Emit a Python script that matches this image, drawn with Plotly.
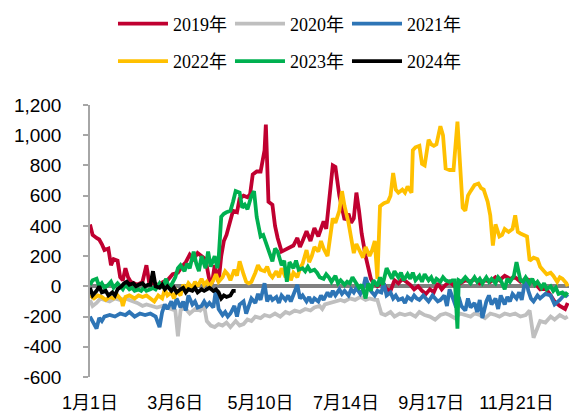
import plotly.graph_objects as go

# x axis: day of year (0 = 1月1日)
tick_days = [0, 65, 130, 195, 260, 325]
tick_labels = ["1月1日", "3月6日", "5月10日", "7月14日", "9月17日", "11月21日"]
y_ticks = [-600, -400, -200, 0, 200, 400, 600, 800, 1000, 1200]
y_tick_labels = ["-600", "-400", "-200", "0", "200", "400", "600", "800", "1,000", "1,200"]

d2019 = [0,2,5,7,9,11,14,16,18,21,23,25,27,29,31,34,36,38,40,43,45,48,52,56,59,63,67,70,73,76,79,82,85,88,91,93,95,98,100,102,104,107,109,112,114,117,120,122,124,127,130,133,134,136,139,141,143,146,150,155,158,160,162,165,168,171,174,178,180,182,185,187,190,192,194,197,199,201,203,205,207,210,212,214,216,219,223,226,229,232,235,238,241,244,247,250,253,256,259,262,265,268,271,274,278,282,286,290,293,297,301,305,309,312,316,320,324,328,332,335,339,343,347,351,354,358,362,364]
v2019 = [410,340,320,310,280,240,250,140,180,170,60,40,120,60,30,20,10,20,30,140,30,20,10,30,40,80,90,130,160,210,180,220,200,180,40,20,140,30,200,300,340,430,500,490,580,600,590,610,740,760,760,900,1070,560,540,400,320,230,250,270,320,260,300,365,300,385,330,430,380,550,800,790,600,520,440,480,420,450,620,500,350,200,120,50,20,0,30,-20,-30,40,20,50,30,10,-20,0,-30,-50,-20,-40,20,-20,10,30,0,20,40,30,50,20,40,30,60,40,70,50,60,30,50,40,20,-20,-10,-60,-100,-130,-150,-110]

d2020 = [0,2,5,8,11,15,19,23,27,30,33,36,40,43,47,51,55,59,62,65,67,69,72,76,80,84,87,89,92,95,98,101,104,107,111,114,117,120,123,126,130,133,137,141,145,149,152,156,160,164,168,171,175,177,179,183,187,191,194,198,202,206,210,213,217,219,222,225,229,232,236,240,244,248,251,255,259,263,267,271,274,278,282,286,290,293,297,301,305,309,312,316,320,324,328,332,335,338,340,343,347,351,354,358,362,364]
v2020 = [-90,-130,-110,-80,-90,-100,-80,-90,-80,-90,-100,-110,-130,-120,-130,-140,-130,-140,-150,-160,-330,-160,-140,-180,-150,-160,-130,-230,-260,-270,-250,-260,-240,-270,-230,-260,-250,-220,-230,-200,-210,-190,-200,-180,-200,-170,-180,-160,-170,-150,-160,-140,-130,-150,-120,-110,-100,-90,-100,-80,-90,-70,-90,-80,-90,-90,-180,-190,-170,-200,-180,-190,-180,-200,-170,-190,-200,-220,-190,-180,-190,-210,-180,-190,-200,-180,-190,-210,-180,-190,-200,-180,-190,-180,-200,-190,-160,-340,-300,-230,-240,-200,-220,-190,-210,-200]

d2021 = [0,2,5,7,9,11,15,19,23,27,30,34,38,42,46,50,53,55,57,59,62,64,66,69,71,73,75,78,80,82,85,87,89,91,94,96,98,101,103,105,107,110,112,114,117,119,121,123,126,128,130,133,135,137,139,142,144,146,149,151,153,155,158,160,162,165,167,169,171,174,176,178,181,183,185,187,190,192,194,197,199,201,203,206,208,210,213,215,217,219,222,224,226,229,231,233,235,238,240,242,245,247,249,251,254,256,258,261,263,265,267,270,272,274,277,279,281,283,286,288,290,293,295,297,299,302,304,306,309,311,313,316,318,320,322,325,327,329,332,334,336,338,341,343,347,351,354,358,362,364]
v2021 = [-200,-230,-280,-210,-230,-200,-190,-200,-180,-190,-170,-200,-180,-190,-180,-200,-270,-170,-120,-150,-100,-150,-80,-140,-100,-160,-60,-120,-100,-140,-130,-100,-130,-110,-140,-20,-150,-190,-170,-200,-180,-130,-200,-120,-100,-180,-130,-80,-110,-50,-90,20,-100,-60,-90,-70,-110,-60,-90,-60,-100,-50,10,-80,-60,-100,-70,-110,-80,-100,-60,-90,-40,-70,-30,-60,-20,-50,-30,-60,-20,-40,-10,-50,-20,60,-20,-40,-60,-30,-40,20,-60,-40,-80,-60,-90,-80,-110,-70,-90,-60,-80,-90,-60,-80,-100,-60,-80,-100,-90,-60,-130,-20,-90,-140,-70,-130,-160,-80,-140,-110,-170,-90,-210,-100,-60,-120,-80,-150,-60,-120,-70,-100,-50,-80,-40,-90,60,-30,-80,-100,-60,-80,-50,-60,-120,-90,-50,-70]

d2022 = [0,3,6,9,12,15,18,21,24,25,27,30,34,37,40,43,46,49,52,55,57,59,62,64,66,69,71,73,75,78,80,82,85,87,89,91,94,96,98,101,103,105,107,110,112,114,117,119,121,123,126,128,130,133,135,137,139,142,144,146,149,151,153,155,158,160,162,165,167,169,171,174,176,178,181,183,185,187,190,192,194,197,199,201,203,206,208,210,213,215,217,219,221,224,227,229,231,233,235,238,240,242,245,246,248,251,253,255,258,260,262,264,267,269,271,274,277,280,282,284,286,288,290,293,296,298,300,303,305,307,309,312,314,316,319,322,324,326,328,331,333,335,338,341,343,345,348,351,353,356,358,360,363,364]
v2022 = [-60,-80,-60,-70,-90,-70,-80,-60,-90,-130,-70,-60,-80,-60,-70,-60,-80,-100,-60,-80,-20,-60,-40,-80,-30,-60,10,-20,20,-10,30,0,50,10,30,0,40,80,30,60,100,80,40,110,70,165,80,30,20,30,90,140,110,100,130,80,60,100,60,120,60,100,40,90,60,120,150,240,160,200,260,230,300,250,200,310,450,420,500,630,530,420,300,220,280,230,190,260,200,240,300,50,530,550,560,600,750,640,620,640,620,660,620,900,920,930,810,800,970,940,930,940,1060,1000,780,770,770,1090,750,520,500,600,630,670,680,650,640,560,470,270,410,330,340,380,360,380,470,360,350,340,330,170,190,180,130,110,80,90,70,30,60,50,20,0]

d2023 = [0,2,5,7,9,11,14,16,18,21,23,25,27,30,32,34,37,39,41,43,46,48,50,53,55,58,60,62,65,67,69,72,74,76,79,81,83,85,88,90,92,95,97,98,100,102,104,107,109,111,114,116,118,120,123,125,127,130,132,134,136,139,141,143,146,148,150,152,155,157,159,162,164,166,168,171,173,175,178,180,182,184,187,189,191,194,196,198,200,203,205,207,210,212,214,216,219,221,223,226,228,230,232,235,237,239,242,244,246,248,251,253,255,258,260,262,264,267,269,271,274,276,278,280,281,283,286,288,290,293,295,297,299,302,304,306,309,311,313,316,318,320,323,325,328,330,332,335,337,339,341,344,346,348,351,353,355,357,360,362,364]
v2023 = [10,40,50,0,20,-10,10,30,-10,20,0,-20,10,-20,-10,-30,-20,-30,-10,-30,-20,-10,-20,20,-10,50,-10,10,60,120,140,100,150,120,230,150,100,200,120,230,130,200,120,180,460,480,490,500,560,630,620,520,540,510,600,630,460,330,340,290,250,165,250,230,140,170,30,160,120,170,110,120,100,130,100,110,90,60,50,80,60,30,70,20,40,10,30,20,60,20,-10,10,-80,20,-30,40,0,60,10,120,80,50,100,60,90,40,80,50,90,40,70,30,80,40,60,20,50,30,60,40,30,40,40,-280,40,30,60,40,20,60,30,50,20,60,30,50,20,60,40,-20,50,30,70,160,40,30,60,20,50,10,30,-10,20,-20,0,-30,-10,-50,-40,-60,-40]

d2024 = [0,2,5,7,9,12,14,17,19,21,24,26,28,30,33,35,37,40,42,44,46,48,50,53,55,57,59,62,64,66,69,71,73,75,78,80,82,85,87,89,91,94,96,98,100,102,104,107,109,111]
v2024 = [-10,-60,-30,0,-40,-30,-60,-40,-60,-20,0,20,30,10,20,0,10,20,0,10,10,100,0,-10,10,-20,0,-30,-10,-40,-20,-10,-40,-20,-30,-10,-40,-20,-30,-20,-10,-30,-20,-40,-80,-60,-70,-60,-30,-30]

series = [
    ("2019年", d2019, v2019, "#C00030"),
    ("2020年", d2020, v2020, "#BFBFBF"),
    ("2021年", d2021, v2021, "#2E75B6"),
    ("2022年", d2022, v2022, "#FFC000"),
    ("2023年", d2023, v2023, "#00B050"),
    ("2024年", d2024, v2024, "#000000"),
]

fig = go.Figure()
for i, (name, xs, ys, col) in enumerate(series):
    fig.add_trace(go.Scatter(
        x=xs, y=ys, name=name, mode="lines",
        line=dict(color=col, width=3.8),
        legend="legend" if i < 3 else "legend2",
    ))

legend_common = dict(
    orientation="h", xanchor="left", yanchor="middle",
    font=dict(family="Liberation Serif, Noto Sans CJK SC", size=18, color="#000000"),
    bgcolor="rgba(0,0,0,0)", entrywidth=52, entrywidthmode="pixels",
    itemwidth=50, tracegroupgap=0,
)

fig.update_layout(
    width=571, height=408,
    margin=dict(l=82, r=10, t=97, b=39, autoexpand=False),
    paper_bgcolor="white", plot_bgcolor="white",
    showlegend=True,
    legend=dict(x=0.048, y=1.298, **legend_common),
    legend2=dict(x=0.048, y=1.160, **legend_common),
    font=dict(family="Liberation Sans, Noto Sans CJK SC", size=18, color="#000000"),
    xaxis=dict(
        range=[0, 365], tickmode="array", tickvals=tick_days, ticktext=tick_labels,
        showgrid=False, showline=False, zeroline=False, ticks="",
        ticklabelstandoff=13,
        tickfont=dict(family="Liberation Sans, Noto Sans CJK SC", size=18),
    ),
    yaxis=dict(
        range=[-600, 1200], tickmode="array", tickvals=y_ticks, ticktext=y_tick_labels,
        showgrid=False, showline=True, linecolor="#A6A6A6", linewidth=1.5,
        ticks="outside", ticklen=5, tickcolor="#A6A6A6", tickwidth=1.5,
        zeroline=True, zerolinecolor="#808080", zerolinewidth=4,
        ticklabelstandoff=18,
        tickfont=dict(family="Liberation Sans", size=19),
    ),
)

fig.write_html("out.html")
